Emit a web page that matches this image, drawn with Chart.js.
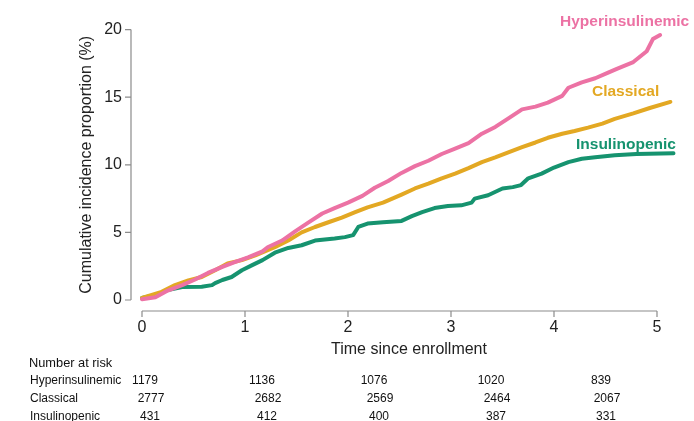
<!DOCTYPE html>
<html>
<head>
<meta charset="utf-8">
<script src="https://cdn.jsdelivr.net/npm/chart.js@4.4.0/dist/chart.umd.min.js"></script>
<style>
  html, body { margin: 0; padding: 0; background: #fff; }
</style>
</head>
<body>
<canvas id="km" width="694" height="421"></canvas>
<script>
// cumulative incidence (%), time in years
const hyperT = [0, 0.13, 0.25, 0.39, 0.51, 0.64, 0.78, 0.9, 1.03, 1.17, 1.22, 1.36, 1.49, 1.61, 1.75, 1.87, 2.0, 2.14, 2.26, 2.39, 2.52, 2.65, 2.78, 2.91, 3.04, 3.17, 3.3, 3.43, 3.55, 3.69, 3.82, 3.94, 4.08, 4.14, 4.27, 4.4, 4.52, 4.61, 4.77, 4.9, 4.96, 5.03, 5.16];
const hyperV = [0.05, 0.2, 0.7, 1.1, 1.5, 2.0, 2.45, 2.8, 3.15, 3.6, 3.9, 4.4, 5.1, 5.7, 6.4, 6.8, 7.2, 7.7, 8.3, 8.8, 9.4, 9.9, 10.3, 10.8, 11.2, 11.6, 12.3, 12.8, 13.4, 14.1, 14.3, 14.6, 15.1, 15.7, 16.1, 16.4, 16.8, 17.1, 17.6, 18.4, 19.3, 19.6, 19.8];

const classT = [0, 0.19, 0.32, 0.45, 0.58, 0.71, 0.83, 0.97, 1.1, 1.29, 1.42, 1.55, 1.68, 1.81, 1.94, 2.07, 2.19, 2.34, 2.52, 2.65, 2.78, 2.91, 3.04, 3.17, 3.3, 3.43, 3.55, 3.69, 3.82, 3.94, 4.08, 4.2, 4.33, 4.47, 4.59, 4.77, 4.93, 5.13];
const classV = [0.15, 0.6, 1.1, 1.45, 1.7, 2.2, 2.7, 2.95, 3.3, 3.9, 4.4, 5.0, 5.4, 5.75, 6.1, 6.5, 6.85, 7.2, 7.8, 8.25, 8.6, 9.0, 9.35, 9.75, 10.2, 10.55, 10.9, 11.3, 11.65, 12.0, 12.3, 12.5, 12.75, 13.05, 13.4, 13.8, 14.2, 14.65];

const insT = [0, 0.13, 0.25, 0.39, 0.58, 0.68, 0.71, 0.78, 0.87, 0.97, 1.07, 1.17, 1.29, 1.42, 1.55, 1.68, 1.87, 1.97, 2.05, 2.1, 2.19, 2.34, 2.52, 2.62, 2.72, 2.84, 2.97, 3.1, 3.2, 3.23, 3.36, 3.5, 3.6, 3.68, 3.75, 3.88, 4.0, 4.14, 4.27, 4.4, 4.59, 4.8, 5.16];
const insV = [0.15, 0.37, 0.74, 0.96, 0.98, 1.1, 1.25, 1.48, 1.7, 2.2, 2.58, 2.95, 3.5, 3.85, 4.05, 4.4, 4.55, 4.65, 4.8, 5.4, 5.65, 5.75, 5.85, 6.2, 6.5, 6.8, 6.95, 7.0, 7.2, 7.5, 7.75, 8.25, 8.35, 8.5, 9.0, 9.35, 9.8, 10.2, 10.45, 10.55, 10.7, 10.8, 10.85];

const groups = ['Hyperinsulinemic', 'Classical', 'Insulinopenic'];
const colors = ['#EC72A4', '#E3A823', '#16936F'];

// number at risk at years 0..5
const riskHyper = [1179, 1136, 1076, 1020, 839];
const riskClass = [2777, 2682, 2569, 2464, 2067];
const riskIns = [431, 412, 400, 387, 331];

const FONT = "'Liberation Sans', Arial, sans-serif";
const pts = (t, v) => t.map((x, i) => ({x: x, y: v[i]}));

const decor = {
  id: 'decor',
  afterDraw(chart) {
    const c = chart.ctx, xs = chart.scales.x, ys = chart.scales.y;
    c.save();
    // detached axes, base-R style
    c.strokeStyle = '#8c8c8c';
    c.lineWidth = 1.2;
    const ax = 131, ay = 311;
    c.beginPath();
    c.moveTo(ax, ys.getPixelForValue(0));
    c.lineTo(ax, ys.getPixelForValue(20));
    for (let v = 0; v <= 20; v += 5) {
      const p = ys.getPixelForValue(v);
      c.moveTo(ax - 6, p); c.lineTo(ax, p);
    }
    c.moveTo(xs.getPixelForValue(0), ay);
    c.lineTo(xs.getPixelForValue(5), ay);
    for (let t = 0; t <= 5; t++) {
      const p = xs.getPixelForValue(t);
      c.moveTo(p, ay); c.lineTo(p, ay + 6);
    }
    c.stroke();

    // x title
    c.fillStyle = '#222';
    c.font = '16px ' + FONT;
    c.textAlign = 'center';
    c.textBaseline = 'middle';
    c.fillText('Time since enrollment', 409, 350);

    // curve labels
    c.font = 'bold 15.5px ' + FONT;
    c.textAlign = 'left';
    const lab = [[560, 22], [592, 92], [576, 145]];
    groups.forEach((g, i) => {
      c.fillStyle = colors[i];
      c.fillText(g, lab[i][0], lab[i][1]);
    });

    // risk table
    c.fillStyle = '#111';
    c.font = '12.8px ' + FONT;
    c.fillText('Number at risk', 29, 363);
    c.font = '12px ' + FONT;
    const rows = [riskHyper, riskClass, riskIns];
    const rowY = [381, 399, 417];
    const colX = [149, 266, 378, 495, 605];
    const shift = [-4, 2, 1];
    rows.forEach((r, i) => {
      c.textAlign = 'left';
      c.fillText(groups[i], 30, rowY[i]);
      c.textAlign = 'center';
      r.forEach((n, j) => c.fillText(String(n), colX[j] + shift[i], rowY[i]));
    });
    c.restore();
  }
};

new Chart(document.getElementById('km'), {
  type: 'line',
  data: {
    datasets: [
      {label: groups[0], data: pts(hyperT, hyperV), borderColor: colors[0]},
      {label: groups[1], data: pts(classT, classV), borderColor: colors[1]},
      {label: groups[2], data: pts(insT, insV), borderColor: colors[2]}
    ].map(d => Object.assign(d, {
      borderWidth: 4, pointRadius: 0, tension: 0, clip: false,
      borderJoinStyle: 'round', borderCapStyle: 'round', fill: false
    }))
  },
  options: {
    responsive: false,
    animation: false,
    layout: {padding: {top: 28, right: 37, left: 0, bottom: 0}},
    plugins: {legend: {display: false}, tooltip: {enabled: false}},
    scales: {
      x: {
        type: 'linear', min: 0, max: 5,
        afterFit: s => { s.height = 121; },
        grid: {display: false, drawTicks: false},
        border: {display: false},
        ticks: {stepSize: 1, padding: 18, color: '#222', font: {size: 16, family: FONT}}
      },
      y: {
        min: 0, max: 20,
        afterFit: s => { s.width = 142; },
        grid: {display: false, drawTicks: false},
        border: {display: false},
        ticks: {stepSize: 5, padding: 20, color: '#222', font: {size: 16, family: FONT}},
        title: {
          display: true, text: 'Cumulative incidence proportion (%)',
          color: '#222', font: {size: 16, family: FONT},
          padding: {top: 77, bottom: 0}
        }
      }
    }
  },
  plugins: [decor]
});
</script>
</body>
</html>
